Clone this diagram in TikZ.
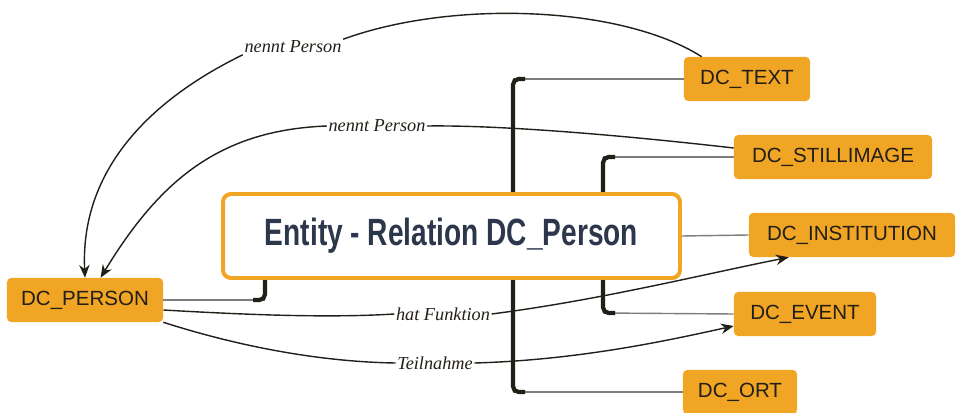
\documentclass[tikz,border=0pt]{standalone}
\usepackage{fontspec}
\setmainfont{Liberation Serif}
\newfontfamily\dcfont{Liberation Sans}
\newfontfamily\titlefont[FakeStretch=0.74]{Liberation Sans}
\usetikzlibrary{arrows.meta}

\definecolor{dcorange}{RGB}{241,165,36}
\definecolor{dcink}{RGB}{34,30,24}
\definecolor{titleink}{RGB}{45,55,76}
\definecolor{branchgray}{RGB}{125,125,125}

\tikzset{
    dcnode/.style={fill=dcorange, rounded corners=3pt, minimum height=1.1cm, inner xsep=2pt,
        text=dcink, font=\dcfont\fontsize{14.6}{16}\selectfont},
    rel/.style={inner sep=1pt, font=\fontsize{13}{15}\selectfont\itshape, text=dcink},
    link/.style={line width=1pt, dcink},
    trunk/.style={line width=3pt, dcink, rounded corners=4pt},
    branch/.style={line width=1pt, branchgray}
}

\begin{document}
\begin{tikzpicture}[x=0.025cm, y=-0.025cm, >={Stealth[length=3.2mm, width=2.6mm]}]
        \useasboundingbox (0,0) rectangle (958,413);

        % Define nodes for the entities
        \node[dcnode, minimum width=3.15cm] (text) at (747,79) {DC\_TEXT};
        \node[dcnode, minimum width=4.95cm] (stillimage) at (833,157) {DC\_STILLIMAGE};
        \node[dcnode, minimum width=5.15cm] (institution) at (852,235) {DC\_INSTITUTION};
        \node[dcnode, minimum width=3.55cm] (event) at (805,314) {DC\_EVENT};
        \node[dcnode, minimum width=2.85cm] (ort) at (740,392) {DC\_ORT};
        \node[dcnode, minimum width=3.9cm] (person) at (85,300) {DC\_PERSON};

        % Define the junctions of the brackets
        \coordinate (jtext) at (513,79);
        \coordinate (jort) at (513,392);
        \coordinate (jstill) at (603,157);
        \coordinate (jevent) at (603,313);
        \coordinate (jperson) at (265,300);

        % Thin branches to the entities
        \draw[branch] (jtext) -- (text.west);
        \draw[branch] (jort) -- (ort.west);
        \draw[branch] (jstill) -- (stillimage.west);
        \draw[branch] (jevent) -- (event.west);
        \draw[branch] (jperson) -- (person.east);

        % Thick brackets
        \draw[trunk] (jtext |- 0,236) |- ([xshift=0.3cm]jtext);
        \draw[trunk] (jort |- 0,236) |- ([xshift=0.3cm]jort);
        \draw[trunk] (jstill |- 0,236) |- ([xshift=0.3cm]jstill);
        \draw[trunk] (jevent |- 0,236) |- ([xshift=0.3cm]jevent);
        \draw[trunk] (jperson |- 0,236) |- ([xshift=-0.3cm]jperson);

        % The central entity
        \node[draw=dcorange, line width=2.8pt, rounded corners=0.2cm, fill=white,
            minimum width=11.42cm, minimum height=2.1cm] (main) at (451.5,236)
            {\titlefont\bfseries\fontsize{27}{30}\selectfont\color{titleink}Entity - Relation DC\_Person};
        \draw[branch] (main.east) -- (institution.west);

        % Labels for the relations
        \node[rel] (nennt1) at (293,47) {nennt Person};
        \node[rel] (nennt2) at (377,126) {nennt Person};
        \node[rel] (funktion) at (443,314) {hat Funktion};
        \node[rel] (teilnahme) at (435,363) {Teilnahme};

        % Relations towards DC_PERSON
        \draw[link] ([xshift=0.45cm]text.north west) .. controls (620,5) and (450,0) .. (nennt1.north east);
        \draw[link,->] (nennt1.south west) .. controls (150,100) and (80,170) .. (person.north);
        \draw[link] ([yshift=0.225cm]stillimage.west) .. controls (620,135) and (500,125) .. (nennt2.east);
        \draw[link,->] (nennt2.west) .. controls (220,130) and (160,180) .. (person.55);

        % Relations from DC_PERSON
        \draw[link] ([yshift=-0.25cm]person.east) .. controls (250,315) and (330,318) .. (funktion.west);
        \draw[link,->] (funktion.east) .. controls (600,300) and (700,275) .. ([xshift=1cm]institution.south west);
        \draw[link] (person.south east) .. controls (250,350) and (330,362) .. (teilnahme.west);
        \draw[link,->] (teilnahme.east) .. controls (580,360) and (670,340) .. ([yshift=-0.3cm]event.west);
    \end{tikzpicture}
\end{document}
